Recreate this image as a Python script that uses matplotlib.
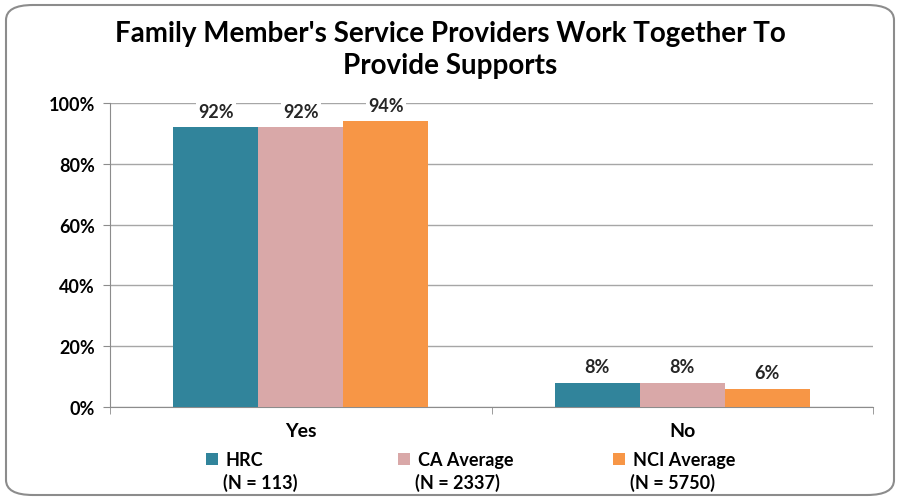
import numpy as np
import matplotlib
import matplotlib.pyplot as plt
from matplotlib.patches import FancyBboxPatch, Patch

matplotlib.use("Agg")
plt.rcParams["font.family"] = ["Lato", "DejaVu Sans"]
plt.rcParams["font.weight"] = "bold"

categories = ["Yes", "No"]
series = ["HRC", "CA Average", "NCI Average"]
series_n = ["(N = 113)", "(N = 2337)", "(N = 5750)"]
hrc = [92, 8]
ca_avg = [92, 8]
nci_avg = [94, 6]
colors = ["#31849B", "#D9A8A8", "#F79646"]

fig = plt.figure(figsize=(9, 5.02), dpi=100)
ax = fig.add_axes([110 / 900, 1 - 408 / 502, 763 / 900, 304 / 502])

# rounded frame round the whole chart
frame = FancyBboxPatch((6 / 900, 6 / 502), 888 / 900, 490 / 502,
                       boxstyle="round,pad=0,rounding_size=0.03",
                       transform=fig.transFigure, facecolor="none",
                       edgecolor="#8C8C8C", linewidth=1.5, zorder=0)
fig.patches.append(frame)

x = np.arange(len(categories))
w = 0.223
for i, (vals, col) in enumerate(zip([hrc, ca_avg, nci_avg], colors)):
    bars = ax.bar(x + (i - 1) * w, vals, w, color=col, zorder=3)
    for b, v in zip(bars, vals):
        ax.text(b.get_x() + b.get_width() / 2, v + 2.5, f"{v}%",
                ha="center", va="bottom", fontsize=13, fontweight="bold",
                color="#262626", zorder=4,
                bbox=dict(facecolor="white", edgecolor="none", pad=1.5))

ax.set_xlim(-0.5, 1.5)
ax.set_ylim(0, 100)
ax.set_yticks(range(0, 101, 20))
ax.set_yticklabels([f"{t}%" for t in range(0, 101, 20)], fontsize=13,
                   fontweight="bold")
ax.set_xticks(x)
ax.set_xticklabels(categories, fontsize=14, fontweight="bold")
ax.tick_params(axis="x", length=0, pad=11)
ax.set_xticks([-0.5, 0.5, 1.5], minor=True)
ax.tick_params(axis="x", which="minor", length=5, color="#8C8C8C")
ax.tick_params(axis="y", length=5, color="#8C8C8C", pad=6)
ax.grid(axis="y", color="#A6A6A6", linewidth=1, zorder=0)
for s in ["top", "right"]:
    ax.spines[s].set_visible(False)
for s in ["left", "bottom"]:
    ax.spines[s].set_color("#8C8C8C")

# legend: one entry per column, sample size on a second line below
leg_x = [206, 398, 613]
for c, name, n, lx in zip(colors, series, series_n, leg_x):
    fig.legend([Patch(facecolor=c)], [name], loc="center left",
               bbox_to_anchor=(lx / 900, 1 - 461 / 502), frameon=False,
               fontsize=13, handlelength=0.65, handleheight=0.65,
               handletextpad=0.45, borderpad=0, borderaxespad=0)
    fig.text((lx + 17) / 900, 1 - 483 / 502, n, ha="left", va="center",
             fontsize=13, fontweight="bold")

fig.suptitle("Family Member's Service Providers Work Together To\nProvide Supports",
             y=1 - 21 / 502, va="top", fontsize=20, fontweight="bold",
             linespacing=1.3)

fig.savefig("out.png", dpi=100)
